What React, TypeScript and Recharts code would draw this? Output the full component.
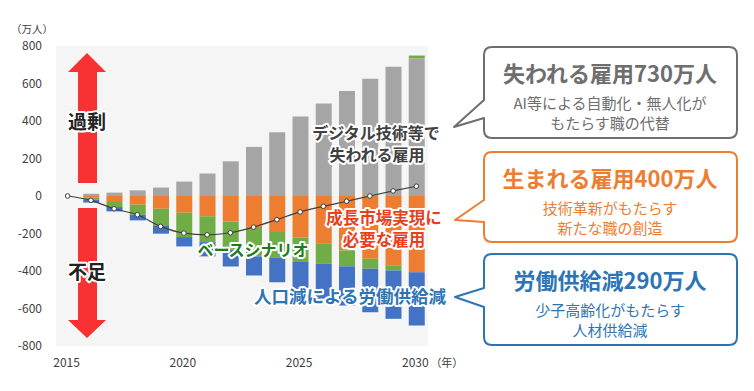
import React from "react";
import { ComposedChart, Bar, Line, XAxis, YAxis, CartesianGrid } from "recharts";

const years = [2015, 2016, 2017, 2018, 2019, 2020, 2021, 2022, 2023, 2024, 2025, 2026, 2027, 2028, 2029, 2030];
// 失われる雇用（過剰側）
const lostJobs = [0, 12, 18, 30, 45, 77, 120, 185, 262, 340, 424, 494, 560, 625, 690, 735];
// 成長市場実現に必要な雇用
const newJobs = [0, -8, -32, -46, -68, -89, -108, -136, -165, -192, -222, -255, -290, -335, -370, -406];
// ベースシナリオ
const baseDemand = [0, -12, -27, -54, -92, -130, -138, -150, -157, -138, -130, -107, -85, -53, -27, 14];
// 人口減による労働供給減
const laborSupply = [0, -15, -23, -30, -41, -50, -76, -90, -102, -130, -157, -187, -209, -232, -258, -285];
// ネット（折れ線）
const netBalance = [0, -23, -68, -100, -162, -198, -207, -196, -166, -126, -85, -55, -28, 0, 27, 52];

const yTicks = [-800, -600, -400, -200, 0, 200, 400, 600, 800];

const data = years.map((year, i) => ({
  year,
  lost: lostJobs[i],
  created: newJobs[i],
  base: baseDemand[i],
  supply: laborSupply[i],
  net: netBalance[i],
}));

const YearTick = (props: any) => {
  const { x, y, payload } = props;
  const year = payload.value;
  if (year % 5 !== 0) return null;
  return (
    <g>
      <text x={x - 1} y={y + 13} textAnchor="middle" fill="#404040" fontSize={12}>
        {year}
      </text>
      {year === 2030 && (
        <text x={x + 14} y={y + 13} textAnchor="start" fill="#404040" fontSize={11}>
          （年）
        </text>
      )}
    </g>
  );
};

const outline = { paintOrder: "stroke" as const, stroke: "#fff", strokeWidth: 4, strokeLinejoin: "round" as const };

const Callout = ({ top, bottom, tail, color, title, lines }: any) => {
  const l = 484, r = 737, rad = 8;
  const d = `M ${l + rad} ${top} L ${r - rad} ${top} Q ${r} ${top} ${r} ${top + rad} L ${r} ${bottom - rad} Q ${r} ${bottom} ${r - rad} ${bottom} L ${l + rad} ${bottom} Q ${l} ${bottom} ${l} ${bottom - rad} L ${l} ${tail[2]} L ${tail[0]} ${tail[1]} L ${l} ${tail[3]} L ${l} ${top + rad} Q ${l} ${top} ${l + rad} ${top} Z`;
  const cx = 610;
  return (
    <g>
      <path d={d} fill="#fff" stroke={color} strokeWidth={2} strokeLinejoin="round" />
      <text x={cx} y={top + 35} textAnchor="middle" fill={color} fontSize={22} fontWeight="bold">
        {title}
      </text>
      <text x={cx} y={top + 62} textAnchor="middle" fill={color} fontSize={15}>
        <tspan x={cx}>{lines[0]}</tspan>
        <tspan x={cx} dy={20}>{lines[1]}</tspan>
      </text>
    </g>
  );
};

const App: React.FC = () => {
  return (
    <div style={{ position: "absolute", left: 0, top: 0, width: 754, height: 391, background: "#fff", fontFamily: "'Noto Sans CJK JP', 'Noto Sans', sans-serif" }}>
      <ComposedChart
        width={754}
        height={391}
        data={data}
        stackOffset="sign"
        barSize={16}
        margin={{ top: 46, right: 326, left: 9, bottom: 15 }}
      >
        <CartesianGrid fill="#f5f5f5" horizontal={false} vertical={false} />
        <XAxis dataKey="year" interval={0} axisLine={false} tickLine={false} height={30} tick={<YearTick />} />
        <YAxis
          domain={[-800, 800]}
          ticks={yTicks}
          width={47}
          axisLine={false}
          tickLine={false}
          tickMargin={8}
          tick={{ fill: "#404040", fontSize: 12 }}
        />
        <Bar dataKey="lost" stackId="a" fill="#a5a5a5" isAnimationActive={false} />
        <Bar dataKey="created" stackId="a" fill="#ed7d31" isAnimationActive={false} />
        <Bar dataKey="base" stackId="a" fill="#70ad47" isAnimationActive={false} />
        <Bar dataKey="supply" stackId="a" fill="#4472c4" isAnimationActive={false} />
        <Line
          dataKey="net"
          type="monotone"
          stroke="#404040"
          strokeWidth={1.2}
          dot={{ r: 2.3, fill: "#fff", stroke: "#404040", strokeWidth: 1 }}
          isAnimationActive={false}
        />
      </ComposedChart>

      <svg width={754} height={391} style={{ position: "absolute", left: 0, top: 0, pointerEvents: "none" }}>
        <text x={32} y={33} textAnchor="middle" fill="#404040" fontSize={10.5}>（万人）</text>

        {/* 過剰 / 不足 arrows */}
        <polygon points="87,53 106,72 97,72 97,183 78,183 78,72 68,72" fill="#f83232" />
        <polygon points="78,208 97,208 97,320 106,320 87,338 68,320 78,320" fill="#f83232" />
        <text x={87} y={129} textAnchor="middle" fill="#222" fontSize={19} fontWeight="bold" style={outline}>過剰</text>
        <text x={87} y={279} textAnchor="middle" fill="#222" fontSize={19} fontWeight="bold" style={outline}>不足</text>

        <text x={376} y={139} textAnchor="middle" fill="#404040" fontSize={16} fontWeight="bold" style={outline}>
          <tspan x={376}>デジタル技術等で</tspan>
          <tspan x={377} dy={22}>失われる雇用</tspan>
        </text>

        <text x={384} y={224} textAnchor="middle" fill="#e8401c" fontSize={16.5} fontWeight="bold" style={outline}>
          <tspan x={384}>成長市場実現に</tspan>
          <tspan x={384} dy={22}>必要な雇用</tspan>
        </text>

        <text x={253} y={256} textAnchor="middle" fill="#1e7b1e" fontSize={16} fontWeight="bold" style={outline}>ベースシナリオ</text>

        <text x={350} y={303} textAnchor="middle" fill="#2e74b5" fontSize={17.5} fontWeight="bold" style={outline}>人口減による労働供給減</text>

        <Callout top={47} bottom={138} tail={[454, 127, 118, 100]} color="#6e6e6e" title="失われる雇用730万人" lines={["AI等による自動化・無人化が", "もたらす職の代替"]} />
        <Callout top={152} bottom={242} tail={[455, 220, 222, 200]} color="#ed7d31" title="生まれる雇用400万人" lines={["技術革新がもたらす", "新たな職の創造"]} />
        <Callout top={254} bottom={345} tail={[455, 297, 307, 288]} color="#2e74b5" title="労働供給減290万人" lines={["少子高齢化がもたらす", "人材供給減"]} />
      </svg>
    </div>
  );
};

export default App;
